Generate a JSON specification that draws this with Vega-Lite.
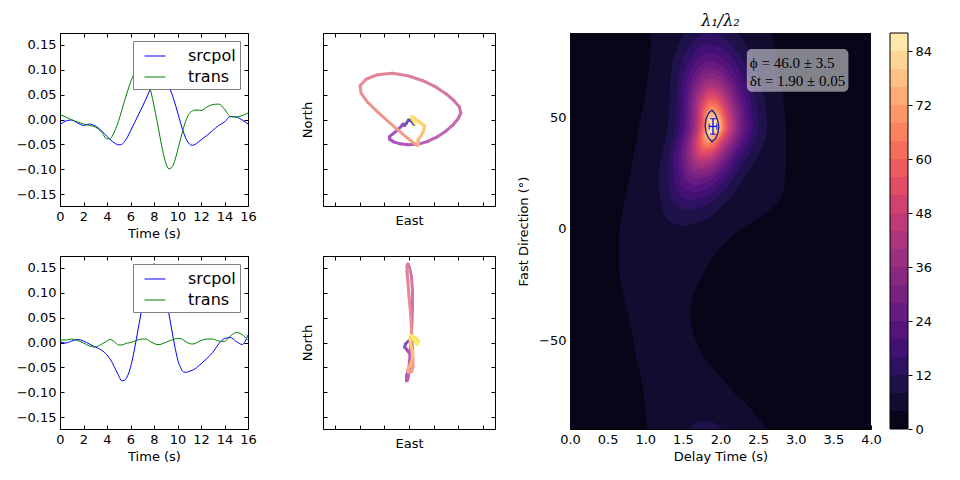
{
  "$schema": "https://vega.github.io/schema/vega-lite/v6.json",
  "autosize": {"type": "pad"},
  "padding": {"left": 15, "top": 12, "right": 5, "bottom": 5},
  "background": "#ffffff",
  "config": {
    "font": "DejaVu Sans",
    "view": {"stroke": "#000000", "strokeWidth": 1},
    "axis": {
      "grid": false,
      "domainColor": "#000000",
      "tickColor": "#000000",
      "labelColor": "#000000",
      "titleColor": "#000000",
      "labelFont": "DejaVu Sans",
      "titleFont": "DejaVu Sans",
      "labelFontSize": 13,
      "titleFontSize": 13,
      "titleFontWeight": "normal",
      "tickSize": -4,
      "labelPadding": 8,
      "labelFlush": false,
      "labelOverlap": false,
      "titlePadding": 4
    }
  },
  "datasets": {
    "pre": [
      {"t": 0, "srcpol": -0.010, "trans": 0.010},
      {"t": 0.5, "srcpol": -0.003, "trans": 0.005},
      {"t": 1, "srcpol": -0.001, "trans": -0.001},
      {"t": 1.5, "srcpol": -0.007, "trans": -0.005},
      {"t": 2, "srcpol": -0.012, "trans": -0.009},
      {"t": 2.5, "srcpol": -0.009, "trans": -0.012},
      {"t": 3, "srcpol": -0.013, "trans": -0.015},
      {"t": 3.5, "srcpol": -0.022, "trans": -0.024},
      {"t": 4, "srcpol": -0.034, "trans": -0.039},
      {"t": 4.25, "srcpol": -0.040, "trans": -0.039},
      {"t": 4.5, "srcpol": -0.045, "trans": -0.031},
      {"t": 4.75, "srcpol": -0.049, "trans": -0.018},
      {"t": 5, "srcpol": -0.051, "trans": -0.002},
      {"t": 5.25, "srcpol": -0.050, "trans": 0.018},
      {"t": 5.5, "srcpol": -0.044, "trans": 0.038},
      {"t": 5.75, "srcpol": -0.035, "trans": 0.057},
      {"t": 6, "srcpol": -0.023, "trans": 0.075},
      {"t": 6.25, "srcpol": -0.011, "trans": 0.089},
      {"t": 6.5, "srcpol": 0.001, "trans": 0.099},
      {"t": 6.75, "srcpol": 0.013, "trans": 0.105},
      {"t": 7, "srcpol": 0.025, "trans": 0.102},
      {"t": 7.25, "srcpol": 0.038, "trans": 0.091},
      {"t": 7.5, "srcpol": 0.051, "trans": 0.076},
      {"t": 7.75, "srcpol": 0.065, "trans": 0.055},
      {"t": 8, "srcpol": 0.078, "trans": 0.028},
      {"t": 8.25, "srcpol": 0.088, "trans": -0.002},
      {"t": 8.5, "srcpol": 0.093, "trans": -0.034},
      {"t": 8.75, "srcpol": 0.090, "trans": -0.064},
      {"t": 9, "srcpol": 0.081, "trans": -0.087},
      {"t": 9.25, "srcpol": 0.068, "trans": -0.099},
      {"t": 9.5, "srcpol": 0.053, "trans": -0.097},
      {"t": 9.75, "srcpol": 0.035, "trans": -0.084},
      {"t": 10, "srcpol": 0.015, "trans": -0.063},
      {"t": 10.25, "srcpol": -0.006, "trans": -0.040},
      {"t": 10.5, "srcpol": -0.025, "trans": -0.018},
      {"t": 10.75, "srcpol": -0.040, "trans": 0.000},
      {"t": 11, "srcpol": -0.049, "trans": 0.012},
      {"t": 11.25, "srcpol": -0.052, "trans": 0.017},
      {"t": 11.5, "srcpol": -0.050, "trans": 0.019},
      {"t": 11.75, "srcpol": -0.046, "trans": 0.019},
      {"t": 12, "srcpol": -0.041, "trans": 0.018},
      {"t": 12.5, "srcpol": -0.032, "trans": 0.025},
      {"t": 13, "srcpol": -0.022, "trans": 0.030},
      {"t": 13.5, "srcpol": -0.012, "trans": 0.031},
      {"t": 14, "srcpol": -0.005, "trans": 0.021},
      {"t": 14.5, "srcpol": 0.006, "trans": 0.006},
      {"t": 15, "srcpol": 0.005, "trans": 0.005},
      {"t": 15.5, "srcpol": -0.001, "trans": 0.008},
      {"t": 16, "srcpol": -0.009, "trans": 0.013}
    ],
    "post": [
      {"t": 0, "srcpol": 0.001, "trans": 0.005},
      {"t": 0.5, "srcpol": -0.001, "trans": 0.005},
      {"t": 1, "srcpol": 0.003, "trans": 0.007},
      {"t": 1.5, "srcpol": 0.006, "trans": 0.004},
      {"t": 2, "srcpol": 0.003, "trans": -0.001},
      {"t": 2.5, "srcpol": -0.003, "trans": -0.007},
      {"t": 3, "srcpol": -0.009, "trans": -0.009},
      {"t": 3.5, "srcpol": -0.015, "trans": -0.004},
      {"t": 4, "srcpol": -0.025, "trans": 0.003},
      {"t": 4.25, "srcpol": -0.033, "trans": 0.006},
      {"t": 4.5, "srcpol": -0.043, "trans": 0.004},
      {"t": 4.75, "srcpol": -0.055, "trans": -0.001},
      {"t": 5, "srcpol": -0.067, "trans": -0.005},
      {"t": 5.25, "srcpol": -0.077, "trans": -0.005},
      {"t": 5.5, "srcpol": -0.076, "trans": -0.003},
      {"t": 5.75, "srcpol": -0.067, "trans": -0.001},
      {"t": 6, "srcpol": -0.050, "trans": 0.000},
      {"t": 6.25, "srcpol": -0.024, "trans": 0.002},
      {"t": 6.5, "srcpol": 0.007, "trans": 0.004},
      {"t": 6.75, "srcpol": 0.040, "trans": 0.006},
      {"t": 7, "srcpol": 0.073, "trans": 0.007},
      {"t": 7.25, "srcpol": 0.105, "trans": 0.007},
      {"t": 7.5, "srcpol": 0.133, "trans": 0.005},
      {"t": 7.75, "srcpol": 0.151, "trans": 0.001},
      {"t": 8, "srcpol": 0.158, "trans": -0.002},
      {"t": 8.25, "srcpol": 0.154, "trans": -0.004},
      {"t": 8.5, "srcpol": 0.142, "trans": -0.004},
      {"t": 8.75, "srcpol": 0.120, "trans": -0.002},
      {"t": 9, "srcpol": 0.093, "trans": 0.000},
      {"t": 9.25, "srcpol": 0.060, "trans": 0.003},
      {"t": 9.5, "srcpol": 0.027, "trans": 0.005},
      {"t": 9.75, "srcpol": -0.005, "trans": 0.007},
      {"t": 10, "srcpol": -0.033, "trans": 0.008},
      {"t": 10.25, "srcpol": -0.050, "trans": 0.008},
      {"t": 10.5, "srcpol": -0.059, "trans": 0.005},
      {"t": 10.75, "srcpol": -0.060, "trans": 0.001},
      {"t": 11, "srcpol": -0.058, "trans": -0.002},
      {"t": 11.25, "srcpol": -0.056, "trans": -0.003},
      {"t": 11.5, "srcpol": -0.053, "trans": -0.002},
      {"t": 11.75, "srcpol": -0.048, "trans": 0.001},
      {"t": 12, "srcpol": -0.043, "trans": 0.004},
      {"t": 12.5, "srcpol": -0.032, "trans": 0.007},
      {"t": 13, "srcpol": -0.020, "trans": 0.007},
      {"t": 13.5, "srcpol": -0.003, "trans": 0.003},
      {"t": 14, "srcpol": 0.008, "trans": 0.002},
      {"t": 14.5, "srcpol": 0.010, "trans": 0.013},
      {"t": 15, "srcpol": 0.002, "trans": 0.020},
      {"t": 15.5, "srcpol": -0.004, "trans": 0.016},
      {"t": 16, "srcpol": 0.015, "trans": 0.004}
    ],
    "bands": [
      {"region": "b0", "level": 0, "deg": -90, "lo": 0, "hi": 4},
      {"region": "b0", "level": 0, "deg": 88, "lo": 0, "hi": 4},
      {"region": "b4", "level": 4, "deg": -90, "lo": 1.03, "hi": 2.62},
      {"region": "b4", "level": 4, "deg": -85, "lo": 1.01, "hi": 2.50},
      {"region": "b4", "level": 4, "deg": -80, "lo": 1.00, "hi": 2.38},
      {"region": "b4", "level": 4, "deg": -75, "lo": 0.98, "hi": 2.22},
      {"region": "b4", "level": 4, "deg": -68, "lo": 0.95, "hi": 2.04},
      {"region": "b4", "level": 4, "deg": -62, "lo": 0.91, "hi": 1.88},
      {"region": "b4", "level": 4, "deg": -54, "lo": 0.86, "hi": 1.72},
      {"region": "b4", "level": 4, "deg": -46, "lo": 0.82, "hi": 1.63},
      {"region": "b4", "level": 4, "deg": -37, "lo": 0.76, "hi": 1.60},
      {"region": "b4", "level": 4, "deg": -28, "lo": 0.70, "hi": 1.66},
      {"region": "b4", "level": 4, "deg": -20, "lo": 0.66, "hi": 1.77},
      {"region": "b4", "level": 4, "deg": -12, "lo": 0.65, "hi": 1.92},
      {"region": "b4", "level": 4, "deg": -6, "lo": 0.65, "hi": 2.07},
      {"region": "b4", "level": 4, "deg": 0, "lo": 0.66, "hi": 2.28},
      {"region": "b4", "level": 4, "deg": 6, "lo": 0.69, "hi": 2.55},
      {"region": "b4", "level": 4, "deg": 12, "lo": 0.72, "hi": 2.76},
      {"region": "b4", "level": 4, "deg": 18, "lo": 0.76, "hi": 2.84},
      {"region": "b4", "level": 4, "deg": 30, "lo": 0.83, "hi": 2.87},
      {"region": "b4", "level": 4, "deg": 45, "lo": 0.91, "hi": 2.87},
      {"region": "b4", "level": 4, "deg": 60, "lo": 1.00, "hi": 2.83},
      {"region": "b4", "level": 4, "deg": 75, "lo": 1.06, "hi": 2.77},
      {"region": "b4", "level": 4, "deg": 88, "lo": 1.08, "hi": 2.68},
      {"region": "b8w", "level": 8, "deg": -90, "lo": 1.59, "hi": 2.02},
      {"region": "b8w", "level": 8, "deg": -88.5, "lo": 1.63, "hi": 1.97},
      {"region": "b8w", "level": 8, "deg": -87, "lo": 1.70, "hi": 1.89},
      {"region": "b8w", "level": 8, "deg": -86.2, "lo": 1.80, "hi": 1.80},
      {"region": "b8", "level": 8, "deg": 1.0, "lo": 1.50, "hi": 1.50},
      {"region": "b8", "level": 8, "deg": 3.25, "lo": 1.332, "hi": 1.745},
      {"region": "b8", "level": 8, "deg": 10, "lo": 1.22, "hi": 2.012},
      {"region": "b8", "level": 8, "deg": 23.5, "lo": 1.18, "hi": 2.324},
      {"region": "b8", "level": 8, "deg": 46, "lo": 1.30, "hi": 2.62},
      {"region": "b8", "level": 8, "deg": 71, "lo": 1.343, "hi": 2.486},
      {"region": "b8", "level": 8, "deg": 86, "lo": 1.48, "hi": 2.272},
      {"region": "b8", "level": 8, "deg": 88, "lo": 1.511, "hi": 2.228},
      {"region": "b12", "level": 12, "deg": 8.2, "lo": 1.564, "hi": 1.564},
      {"region": "b12", "level": 12, "deg": 10.1, "lo": 1.423, "hi": 1.769},
      {"region": "b12", "level": 12, "deg": 15.8, "lo": 1.329, "hi": 1.994},
      {"region": "b12", "level": 12, "deg": 27.1, "lo": 1.296, "hi": 2.256},
      {"region": "b12", "level": 12, "deg": 46, "lo": 1.396, "hi": 2.505},
      {"region": "b12", "level": 12, "deg": 67, "lo": 1.433, "hi": 2.392},
      {"region": "b12", "level": 12, "deg": 79.6, "lo": 1.548, "hi": 2.213},
      {"region": "b12", "level": 12, "deg": 85.9, "lo": 1.683, "hi": 2.029},
      {"region": "b12", "level": 12, "deg": 88, "lo": 1.837, "hi": 1.837},
      {"region": "b16", "level": 16, "deg": 12.7, "lo": 1.604, "hi": 1.604},
      {"region": "b16", "level": 16, "deg": 14.4, "lo": 1.480, "hi": 1.784},
      {"region": "b16", "level": 16, "deg": 19.4, "lo": 1.397, "hi": 1.983},
      {"region": "b16", "level": 16, "deg": 29.4, "lo": 1.367, "hi": 2.214},
      {"region": "b16", "level": 16, "deg": 46, "lo": 1.456, "hi": 2.433},
      {"region": "b16", "level": 16, "deg": 64.5, "lo": 1.488, "hi": 2.334},
      {"region": "b16", "level": 16, "deg": 75.6, "lo": 1.590, "hi": 2.176},
      {"region": "b16", "level": 16, "deg": 81.2, "lo": 1.709, "hi": 2.013},
      {"region": "b16", "level": 16, "deg": 83, "lo": 1.845, "hi": 1.845},
      {"region": "b20", "level": 20, "deg": 16.3, "lo": 1.636, "hi": 1.636},
      {"region": "b20", "level": 20, "deg": 17.8, "lo": 1.525, "hi": 1.797},
      {"region": "b20", "level": 20, "deg": 22.2, "lo": 1.451, "hi": 1.974},
      {"region": "b20", "level": 20, "deg": 31.2, "lo": 1.425, "hi": 2.179},
      {"region": "b20", "level": 20, "deg": 46, "lo": 1.504, "hi": 2.375},
      {"region": "b20", "level": 20, "deg": 62.5, "lo": 1.532, "hi": 2.286},
      {"region": "b20", "level": 20, "deg": 72.4, "lo": 1.622, "hi": 2.145},
      {"region": "b20", "level": 20, "deg": 77.4, "lo": 1.729, "hi": 2.001},
      {"region": "b20", "level": 20, "deg": 79, "lo": 1.851, "hi": 1.851},
      {"region": "b24", "level": 24, "deg": 19.5, "lo": 1.664, "hi": 1.664},
      {"region": "b24", "level": 24, "deg": 20.8, "lo": 1.566, "hi": 1.808},
      {"region": "b24", "level": 24, "deg": 24.8, "lo": 1.499, "hi": 1.966},
      {"region": "b24", "level": 24, "deg": 32.7, "lo": 1.475, "hi": 2.150},
      {"region": "b24", "level": 24, "deg": 46, "lo": 1.546, "hi": 2.325},
      {"region": "b24", "level": 24, "deg": 60.8, "lo": 1.571, "hi": 2.246},
      {"region": "b24", "level": 24, "deg": 69.6, "lo": 1.653, "hi": 2.120},
      {"region": "b24", "level": 24, "deg": 74.0, "lo": 1.748, "hi": 1.991},
      {"region": "b24", "level": 24, "deg": 75.5, "lo": 1.856, "hi": 1.856},
      {"region": "b28", "level": 28, "deg": 22.2, "lo": 1.688, "hi": 1.688},
      {"region": "b28", "level": 28, "deg": 23.3, "lo": 1.599, "hi": 1.817},
      {"region": "b28", "level": 28, "deg": 26.9, "lo": 1.539, "hi": 1.959},
      {"region": "b28", "level": 28, "deg": 34.1, "lo": 1.519, "hi": 2.125},
      {"region": "b28", "level": 28, "deg": 46, "lo": 1.582, "hi": 2.282},
      {"region": "b28", "level": 28, "deg": 59.3, "lo": 1.605, "hi": 2.211},
      {"region": "b28", "level": 28, "deg": 67.2, "lo": 1.677, "hi": 2.097},
      {"region": "b28", "level": 28, "deg": 71.2, "lo": 1.763, "hi": 1.981},
      {"region": "b28", "level": 28, "deg": 72.5, "lo": 1.860, "hi": 1.860},
      {"region": "b32", "level": 32, "deg": 24.4, "lo": 1.708, "hi": 1.708},
      {"region": "b32", "level": 32, "deg": 25.5, "lo": 1.627, "hi": 1.825},
      {"region": "b32", "level": 32, "deg": 28.7, "lo": 1.573, "hi": 1.953},
      {"region": "b32", "level": 32, "deg": 35.2, "lo": 1.555, "hi": 2.103},
      {"region": "b32", "level": 32, "deg": 46, "lo": 1.612, "hi": 2.246},
      {"region": "b32", "level": 32, "deg": 58, "lo": 1.633, "hi": 2.181},
      {"region": "b32", "level": 32, "deg": 65.2, "lo": 1.698, "hi": 2.078},
      {"region": "b32", "level": 32, "deg": 68.8, "lo": 1.776, "hi": 1.974},
      {"region": "b32", "level": 32, "deg": 70, "lo": 1.864, "hi": 1.864},
      {"region": "b36", "level": 36, "deg": 26.7, "lo": 1.728, "hi": 1.728},
      {"region": "b36", "level": 36, "deg": 27.6, "lo": 1.656, "hi": 1.833},
      {"region": "b36", "level": 36, "deg": 30.5, "lo": 1.607, "hi": 1.948},
      {"region": "b36", "level": 36, "deg": 36.3, "lo": 1.591, "hi": 2.082},
      {"region": "b36", "level": 36, "deg": 46, "lo": 1.642, "hi": 2.210},
      {"region": "b36", "level": 36, "deg": 56.8, "lo": 1.661, "hi": 2.152},
      {"region": "b36", "level": 36, "deg": 63.2, "lo": 1.719, "hi": 2.060},
      {"region": "b36", "level": 36, "deg": 66.4, "lo": 1.789, "hi": 1.966},
      {"region": "b36", "level": 36, "deg": 67.5, "lo": 1.868, "hi": 1.868},
      {"region": "b40", "level": 40, "deg": 28.5, "lo": 1.744, "hi": 1.744},
      {"region": "b40", "level": 40, "deg": 29.3, "lo": 1.679, "hi": 1.839},
      {"region": "b40", "level": 40, "deg": 32.0, "lo": 1.635, "hi": 1.944},
      {"region": "b40", "level": 40, "deg": 37.2, "lo": 1.619, "hi": 2.065},
      {"region": "b40", "level": 40, "deg": 46, "lo": 1.666, "hi": 2.181},
      {"region": "b40", "level": 40, "deg": 55.8, "lo": 1.682, "hi": 2.128},
      {"region": "b40", "level": 40, "deg": 61.6, "lo": 1.737, "hi": 2.045},
      {"region": "b40", "level": 40, "deg": 64.5, "lo": 1.799, "hi": 1.960},
      {"region": "b40", "level": 40, "deg": 65.5, "lo": 1.871, "hi": 1.871},
      {"region": "b44", "level": 44, "deg": 30.3, "lo": 1.760, "hi": 1.760},
      {"region": "b44", "level": 44, "deg": 31.0, "lo": 1.701, "hi": 1.845},
      {"region": "b44", "level": 44, "deg": 33.4, "lo": 1.662, "hi": 1.939},
      {"region": "b44", "level": 44, "deg": 38.1, "lo": 1.648, "hi": 2.048},
      {"region": "b44", "level": 44, "deg": 46, "lo": 1.690, "hi": 2.152},
      {"region": "b44", "level": 44, "deg": 54.8, "lo": 1.705, "hi": 2.105},
      {"region": "b44", "level": 44, "deg": 60.0, "lo": 1.753, "hi": 2.030},
      {"region": "b44", "level": 44, "deg": 62.6, "lo": 1.809, "hi": 1.954},
      {"region": "b44", "level": 44, "deg": 63.5, "lo": 1.874, "hi": 1.874},
      {"region": "b48", "level": 48, "deg": 31.8, "lo": 1.774, "hi": 1.774},
      {"region": "b48", "level": 48, "deg": 32.5, "lo": 1.721, "hi": 1.851},
      {"region": "b48", "level": 48, "deg": 34.7, "lo": 1.686, "hi": 1.935},
      {"region": "b48", "level": 48, "deg": 38.9, "lo": 1.673, "hi": 2.033},
      {"region": "b48", "level": 48, "deg": 46, "lo": 1.711, "hi": 2.127},
      {"region": "b48", "level": 48, "deg": 53.9, "lo": 1.724, "hi": 2.084},
      {"region": "b48", "level": 48, "deg": 58.6, "lo": 1.768, "hi": 2.017},
      {"region": "b48", "level": 48, "deg": 61.0, "lo": 1.819, "hi": 1.949},
      {"region": "b48", "level": 48, "deg": 61.8, "lo": 1.876, "hi": 1.876},
      {"region": "b52", "level": 52, "deg": 33.4, "lo": 1.788, "hi": 1.788},
      {"region": "b52", "level": 52, "deg": 34.0, "lo": 1.741, "hi": 1.856},
      {"region": "b52", "level": 52, "deg": 35.9, "lo": 1.709, "hi": 1.931},
      {"region": "b52", "level": 52, "deg": 39.7, "lo": 1.698, "hi": 2.018},
      {"region": "b52", "level": 52, "deg": 46, "lo": 1.732, "hi": 2.102},
      {"region": "b52", "level": 52, "deg": 53.0, "lo": 1.744, "hi": 2.064},
      {"region": "b52", "level": 52, "deg": 57.2, "lo": 1.782, "hi": 2.004},
      {"region": "b52", "level": 52, "deg": 59.3, "lo": 1.828, "hi": 1.943},
      {"region": "b52", "level": 52, "deg": 60.0, "lo": 1.879, "hi": 1.879},
      {"region": "b56", "level": 56, "deg": 34.8, "lo": 1.800, "hi": 1.800},
      {"region": "b56", "level": 56, "deg": 35.3, "lo": 1.758, "hi": 1.861},
      {"region": "b56", "level": 56, "deg": 37.0, "lo": 1.730, "hi": 1.928},
      {"region": "b56", "level": 56, "deg": 40.4, "lo": 1.720, "hi": 2.006},
      {"region": "b56", "level": 56, "deg": 46, "lo": 1.750, "hi": 2.080},
      {"region": "b56", "level": 56, "deg": 52.3, "lo": 1.761, "hi": 2.047},
      {"region": "b56", "level": 56, "deg": 56.0, "lo": 1.795, "hi": 1.993},
      {"region": "b56", "level": 56, "deg": 57.9, "lo": 1.835, "hi": 1.938},
      {"region": "b56", "level": 56, "deg": 58.5, "lo": 1.881, "hi": 1.881},
      {"region": "b60", "level": 60, "deg": 36.1, "lo": 1.812, "hi": 1.812},
      {"region": "b60", "level": 60, "deg": 36.6, "lo": 1.775, "hi": 1.865},
      {"region": "b60", "level": 60, "deg": 38.1, "lo": 1.751, "hi": 1.925},
      {"region": "b60", "level": 60, "deg": 41.1, "lo": 1.742, "hi": 1.993},
      {"region": "b60", "level": 60, "deg": 46, "lo": 1.768, "hi": 2.058},
      {"region": "b60", "level": 60, "deg": 51.5, "lo": 1.778, "hi": 2.029},
      {"region": "b60", "level": 60, "deg": 54.8, "lo": 1.808, "hi": 1.982},
      {"region": "b60", "level": 60, "deg": 56.5, "lo": 1.843, "hi": 1.933},
      {"region": "b60", "level": 60, "deg": 57.0, "lo": 1.884, "hi": 1.884},
      {"region": "b64", "level": 64, "deg": 37.2, "lo": 1.822, "hi": 1.822},
      {"region": "b64", "level": 64, "deg": 39.9, "lo": 1.762, "hi": 1.945},
      {"region": "b64", "level": 64, "deg": 46, "lo": 1.783, "hi": 2.040},
      {"region": "b64", "level": 64, "deg": 52.8, "lo": 1.806, "hi": 1.990},
      {"region": "b64", "level": 64, "deg": 55.8, "lo": 1.885, "hi": 1.885},
      {"region": "b68", "level": 68, "deg": 38.4, "lo": 1.832, "hi": 1.832},
      {"region": "b68", "level": 68, "deg": 40.6, "lo": 1.779, "hi": 1.939},
      {"region": "b68", "level": 68, "deg": 46, "lo": 1.798, "hi": 2.022},
      {"region": "b68", "level": 68, "deg": 52.0, "lo": 1.818, "hi": 1.978},
      {"region": "b68", "level": 68, "deg": 54.5, "lo": 1.887, "hi": 1.887},
      {"region": "b72", "level": 72, "deg": 39.5, "lo": 1.842, "hi": 1.842},
      {"region": "b72", "level": 72, "deg": 41.4, "lo": 1.797, "hi": 1.934},
      {"region": "b72", "level": 72, "deg": 46, "lo": 1.813, "hi": 2.004},
      {"region": "b72", "level": 72, "deg": 51.1, "lo": 1.830, "hi": 1.967},
      {"region": "b72", "level": 72, "deg": 53.3, "lo": 1.889, "hi": 1.889},
      {"region": "b76", "level": 76, "deg": 40.6, "lo": 1.852, "hi": 1.852},
      {"region": "b76", "level": 76, "deg": 42.2, "lo": 1.815, "hi": 1.928},
      {"region": "b76", "level": 76, "deg": 46, "lo": 1.828, "hi": 1.986},
      {"region": "b76", "level": 76, "deg": 50.2, "lo": 1.843, "hi": 1.956},
      {"region": "b76", "level": 76, "deg": 52.0, "lo": 1.891, "hi": 1.891},
      {"region": "b80", "level": 80, "deg": 42.0, "lo": 1.864, "hi": 1.864},
      {"region": "b80", "level": 80, "deg": 43.2, "lo": 1.836, "hi": 1.921},
      {"region": "b80", "level": 80, "deg": 46, "lo": 1.846, "hi": 1.965},
      {"region": "b80", "level": 80, "deg": 49.2, "lo": 1.857, "hi": 1.941},
      {"region": "b80", "level": 80, "deg": 50.5, "lo": 1.893, "hi": 1.893},
      {"region": "b84", "level": 84, "deg": 43.3, "lo": 1.876, "hi": 1.876},
      {"region": "b84", "level": 84, "deg": 44.1, "lo": 1.857, "hi": 1.914},
      {"region": "b84", "level": 84, "deg": 46, "lo": 1.864, "hi": 1.943},
      {"region": "b84", "level": 84, "deg": 48.1, "lo": 1.871, "hi": 1.928},
      {"region": "b84", "level": 84, "deg": 49.0, "lo": 1.896, "hi": 1.896}
    ],
    "lens": [
      {"i": 0, "t": 1.887, "deg": 53.4},
      {"i": 1, "t": 1.930, "deg": 51.6},
      {"i": 2, "t": 1.962, "deg": 48.8},
      {"i": 3, "t": 1.977, "deg": 46.0},
      {"i": 4, "t": 1.966, "deg": 43.0},
      {"i": 5, "t": 1.933, "deg": 40.5},
      {"i": 6, "t": 1.887, "deg": 39.1},
      {"i": 7, "t": 1.842, "deg": 40.7},
      {"i": 8, "t": 1.808, "deg": 43.4},
      {"i": 9, "t": 1.795, "deg": 46.3},
      {"i": 10, "t": 1.807, "deg": 49.3},
      {"i": 11, "t": 1.842, "deg": 52.0},
      {"i": 12, "t": 1.887, "deg": 53.4}
    ],
    "result": [
      {"dt": 1.90, "dt_lo": 1.85, "dt_hi": 1.95, "phi": 46.0, "phi_lo": 42.5, "phi_hi": 49.5}
    ],
    "notes": [
      {"label": "ϕ = 46.0 ± 3.5", "t": 2.39, "deg": 74.4},
      {"label": "δt = 1.90 ± 0.05", "t": 2.39, "deg": 66.6}
    ],
    "cbar": [
      {"level": 0, "top": 4}, {"level": 4, "top": 8}, {"level": 8, "top": 12},
      {"level": 12, "top": 16}, {"level": 16, "top": 20}, {"level": 20, "top": 24},
      {"level": 24, "top": 28}, {"level": 28, "top": 32}, {"level": 32, "top": 36},
      {"level": 36, "top": 40}, {"level": 40, "top": 44}, {"level": 44, "top": 48},
      {"level": 48, "top": 52}, {"level": 52, "top": 56}, {"level": 56, "top": 60},
      {"level": 60, "top": 64}, {"level": 64, "top": 68}, {"level": 68, "top": 72},
      {"level": 72, "top": 76}, {"level": 76, "top": 80}, {"level": 80, "top": 84},
      {"level": 84, "top": 88}
    ]
  },
  "columns": 3,
  "spacing": {"row": 50, "column": 75},
  "bounds": "flush",
  "align": "each",
  "resolve": {"scale": {"color": "independent"}, "legend": {"color": "independent"}},
  "concat": [
    {
      "width": 188,
      "height": 173,
      "resolve": {"scale": {"x": "independent", "y": "independent"}},
      "layer": [
        {
          "data": {"name": "pre"},
          "transform": [{"fold": ["srcpol", "trans"], "as": ["series", "amp"]}],
          "mark": {"type": "line", "strokeWidth": 1, "interpolate": "monotone"},
          "encoding": {
            "x": {"field": "t", "type": "quantitative", "scale": {"domain": [0, 16]},
                  "axis": {"title": "Time (s)", "values": [0, 2, 4, 6, 8, 10, 12, 14, 16], "format": "d", "labelOverlap": false}},
            "y": {"field": "amp", "type": "quantitative", "scale": {"domain": [-0.174, 0.174]},
                  "axis": {"title": null, "values": [-0.15, -0.1, -0.05, 0, 0.05, 0.1, 0.15], "format": ".2f", "labelOverlap": false}},
            "color": {"field": "series", "type": "nominal",
                      "scale": {"domain": ["srcpol", "trans"], "range": ["#0000ff", "#008000"]},
                      "legend": {"title": null, "orient": "top-right", "offset": 8, "padding": 4,
                                 "strokeColor": "#808080", "fillColor": "#ffffff",
                                 "symbolType": "stroke", "symbolSize": 441, "symbolStrokeWidth": 1,
                                 "symbolOffset": 7, "labelOffset": 22, "rowPadding": 2,
                                 "labelFont": "DejaVu Sans", "labelFontSize": 16, "labelColor": "#000000"}}
          }
        },
        {
          "data": {"name": "pre"},
          "mark": {"type": "point", "opacity": 0},
          "encoding": {
            "x": {"field": "t", "type": "quantitative", "scale": {"domain": [0, 16]},
                  "axis": {"orient": "top", "title": null, "labels": false, "values": [0, 2, 4, 6, 8, 10, 12, 14, 16]}},
            "y": {"field": "trans", "type": "quantitative", "scale": {"domain": [-0.174, 0.174]},
                  "axis": {"orient": "right", "title": null, "labels": false, "values": [-0.15, -0.1, -0.05, 0, 0.05, 0.1, 0.15]}}
          }
        }
      ]
    },
    {
      "width": 172,
      "height": 173,
      "resolve": {"scale": {"x": "independent", "y": "independent"}},
      "layer": [
        {
          "data": {"name": "pre"},
          "transform": [
            {"window": [{"op": "lead", "field": "trans", "as": "trans_next"},
                        {"op": "lead", "field": "srcpol", "as": "srcpol_next"}],
             "sort": [{"field": "t", "order": "ascending"}]},
            {"filter": "isValid(datum.trans_next)"}
          ],
          "mark": {"type": "rule", "strokeWidth": 3, "strokeCap": "round"},
          "encoding": {
            "x": {"field": "trans", "type": "quantitative", "scale": {"domain": [-0.174, 0.174]},
                  "axis": {"title": "East", "labels": false, "values": [-0.15, -0.1, -0.05, 0, 0.05, 0.1, 0.15], "titlePadding": 8}},
            "y": {"field": "srcpol", "type": "quantitative", "scale": {"domain": [-0.174, 0.174]},
                  "axis": {"title": "North", "labels": false, "values": [-0.15, -0.1, -0.05, 0, 0.05, 0.1, 0.15], "titlePadding": 8}},
            "x2": {"field": "trans_next"},
            "y2": {"field": "srcpol_next"},
            "color": {"field": "t", "type": "quantitative",
                      "scale": {"domain": [0, 2, 4, 6, 8, 10, 12, 14, 16],
                                "range": ["#5652ab", "#8250bd", "#a54fc2", "#c365b5", "#db7ea0", "#ed978e", "#fab579", "#fed568", "#f5fb64"]},
                      "legend": null}
          }
        },
        {
          "data": {"name": "pre"},
          "mark": {"type": "point", "opacity": 0},
          "encoding": {
            "x": {"field": "trans", "type": "quantitative", "scale": {"domain": [-0.174, 0.174]},
                  "axis": {"orient": "top", "title": null, "labels": false, "values": [-0.15, -0.1, -0.05, 0, 0.05, 0.1, 0.15]}},
            "y": {"field": "srcpol", "type": "quantitative", "scale": {"domain": [-0.174, 0.174]},
                  "axis": {"orient": "right", "title": null, "labels": false, "values": [-0.15, -0.1, -0.05, 0, 0.05, 0.1, 0.15]}}
          }
        }
      ]
    },
    {
      "width": 301,
      "height": 173,
      "view": {"stroke": null},
      "title": {"text": "λ₁/λ₂", "font": "DejaVu Serif", "fontStyle": "italic", "fontSize": 16,
                "fontWeight": "normal", "frame": "group", "offset": 4, "color": "#000000"},
      "resolve": {"scale": {"x": "independent", "y": "independent"}},
      "layer": [
        {
          "layer": [
            {
              "data": {"name": "bands"},
              "mark": {"type": "area", "orient": "horizontal", "interpolate": "monotone"},
              "encoding": {
                "y": {"field": "deg", "type": "quantitative",
                      "scale": {"domain": [-90, 88], "range": [396, 0]},
                      "axis": {"title": "Fast Direction (°)", "values": [-50, 0, 50], "format": "d", "titlePadding": 8, "labelOverlap": false}},
                "x": {"field": "lo", "type": "quantitative", "scale": {"domain": [0, 4]},
                      "axis": {"title": "Delay Time (s)", "values": [0, 0.5, 1, 1.5, 2, 2.5, 3, 3.5, 4], "format": ".1f", "offset": 223, "labelOverlap": false}},
                "x2": {"field": "hi"},
                "detail": {"field": "region"},
                "color": {"field": "level", "type": "quantitative",
                          "scale": {"type": "quantize", "domain": [0, 88], "scheme": {"name": "magma", "count": 22}},
                          "legend": null}
              }
            },
            {
              "data": {"name": "lens"},
              "mark": {"type": "line", "color": "#1c1c8c", "strokeWidth": 1.3},
              "encoding": {
                "x": {"field": "t", "type": "quantitative", "scale": {"domain": [0, 4]},
                      "axis": {"title": "Delay Time (s)", "values": [0, 0.5, 1, 1.5, 2, 2.5, 3, 3.5, 4], "format": ".1f", "offset": 223, "labelOverlap": false}},
                "y": {"field": "deg", "type": "quantitative", "scale": {"domain": [-90, 88], "range": [396, 0]},
                      "axis": {"title": "Fast Direction (°)", "values": [-50, 0, 50], "format": "d", "titlePadding": 8, "labelOverlap": false}},
                "order": {"field": "i"}
              }
            },
            {
              "data": {"name": "result"},
              "mark": {"type": "errorbar", "ticks": true, "size": 6, "thickness": 1.3, "color": "#0000ff"},
              "encoding": {
                "x": {"field": "dt", "type": "quantitative", "scale": {"domain": [0, 4]},
                      "axis": {"title": "Delay Time (s)", "values": [0, 0.5, 1, 1.5, 2, 2.5, 3, 3.5, 4], "format": ".1f", "offset": 223, "labelOverlap": false}},
                "y": {"field": "phi_lo", "type": "quantitative", "scale": {"domain": [-90, 88], "range": [396, 0]},
                      "axis": {"title": "Fast Direction (°)", "values": [-50, 0, 50], "format": "d", "titlePadding": 8, "labelOverlap": false}},
                "y2": {"field": "phi_hi"}
              }
            },
            {
              "data": {"name": "result"},
              "mark": {"type": "errorbar", "ticks": true, "size": 6, "thickness": 1.3, "color": "#0000ff"},
              "encoding": {
                "y": {"field": "phi", "type": "quantitative", "scale": {"domain": [-90, 88], "range": [396, 0]},
                      "axis": {"title": "Fast Direction (°)", "values": [-50, 0, 50], "format": "d", "titlePadding": 8, "labelOverlap": false}},
                "x": {"field": "dt_lo", "type": "quantitative", "scale": {"domain": [0, 4]},
                      "axis": {"title": "Delay Time (s)", "values": [0, 0.5, 1, 1.5, 2, 2.5, 3, 3.5, 4], "format": ".1f", "offset": 223, "labelOverlap": false}},
                "x2": {"field": "dt_hi"}
              }
            },
            {
              "data": {"values": [{}]},
              "mark": {"type": "rect", "fill": "#ffffff", "fillOpacity": 0.5, "cornerRadius": 5},
              "encoding": {
                "x": {"datum": 2.35, "type": "quantitative", "scale": {"domain": [0, 4]},
                      "axis": {"title": "Delay Time (s)", "values": [0, 0.5, 1, 1.5, 2, 2.5, 3, 3.5, 4], "format": ".1f", "offset": 223, "labelOverlap": false}},
                "x2": {"datum": 3.70},
                "y": {"datum": 61.6, "type": "quantitative", "scale": {"domain": [-90, 88], "range": [396, 0]},
                      "axis": {"title": "Fast Direction (°)", "values": [-50, 0, 50], "format": "d", "titlePadding": 8, "labelOverlap": false}},
                "y2": {"datum": 80.8}
              }
            },
            {
              "data": {"name": "notes"},
              "mark": {"type": "text", "align": "left", "baseline": "middle", "font": "Liberation Serif", "fontSize": 15, "color": "#000000"},
              "encoding": {
                "x": {"field": "t", "type": "quantitative", "scale": {"domain": [0, 4]},
                      "axis": {"title": "Delay Time (s)", "values": [0, 0.5, 1, 1.5, 2, 2.5, 3, 3.5, 4], "format": ".1f", "offset": 223, "labelOverlap": false}},
                "y": {"field": "deg", "type": "quantitative", "scale": {"domain": [-90, 88], "range": [396, 0]},
                      "axis": {"title": "Fast Direction (°)", "values": [-50, 0, 50], "format": "d", "titlePadding": 8, "labelOverlap": false}},
                "text": {"field": "label"}
              }
            }
          ]
        },
        {
          "layer": [
            {
              "data": {"name": "cbar"},
              "mark": {"type": "rect"},
              "encoding": {
                "x": {"datum": 0, "type": "quantitative", "scale": {"domain": [0, 1], "range": [320, 338]}, "axis": null},
                "x2": {"datum": 1},
                "y": {"field": "level", "type": "quantitative",
                      "scale": {"domain": [0, 88], "range": [396, 0]},
                      "axis": {"orient": "right", "offset": 37, "title": null, "values": [0, 12, 24, 36, 48, 60, 72, 84],
                               "format": "d", "tickSize": 4, "labelPadding": 3, "domain": false, "labelOverlap": false}},
                "y2": {"field": "top"},
                "color": {"field": "level", "type": "quantitative",
                          "scale": {"type": "quantize", "domain": [0, 88], "scheme": {"name": "magma", "count": 22}},
                          "legend": null}
              }
            },
            {
              "data": {"values": [{}]},
              "mark": {"type": "rect", "filled": false, "color": "#000000", "strokeWidth": 1},
              "encoding": {
                "x": {"datum": 0, "type": "quantitative", "scale": {"domain": [0, 1], "range": [320, 338]}, "axis": null},
                "x2": {"datum": 1},
                "y": {"datum": 0, "type": "quantitative", "scale": {"domain": [0, 88], "range": [396, 0]},
                      "axis": {"orient": "right", "offset": 37, "title": null, "values": [0, 12, 24, 36, 48, 60, 72, 84],
                               "format": "d", "tickSize": 4, "labelPadding": 3, "domain": false, "labelOverlap": false}},
                "y2": {"datum": 88}
              }
            }
          ]
        }
      ]
    },
    {
      "width": 188,
      "height": 173,
      "resolve": {"scale": {"x": "independent", "y": "independent"}},
      "layer": [
        {
          "data": {"name": "post"},
          "transform": [{"fold": ["srcpol", "trans"], "as": ["series", "amp"]}],
          "mark": {"type": "line", "strokeWidth": 1, "interpolate": "monotone"},
          "encoding": {
            "x": {"field": "t", "type": "quantitative", "scale": {"domain": [0, 16]},
                  "axis": {"title": "Time (s)", "values": [0, 2, 4, 6, 8, 10, 12, 14, 16], "format": "d", "labelOverlap": false}},
            "y": {"field": "amp", "type": "quantitative", "scale": {"domain": [-0.174, 0.174]},
                  "axis": {"title": null, "values": [-0.15, -0.1, -0.05, 0, 0.05, 0.1, 0.15], "format": ".2f", "labelOverlap": false}},
            "color": {"field": "series", "type": "nominal",
                      "scale": {"domain": ["srcpol", "trans"], "range": ["#0000ff", "#008000"]},
                      "legend": {"title": null, "orient": "top-right", "offset": 8, "padding": 4,
                                 "strokeColor": "#808080", "fillColor": "#ffffff",
                                 "symbolType": "stroke", "symbolSize": 441, "symbolStrokeWidth": 1,
                                 "symbolOffset": 7, "labelOffset": 22, "rowPadding": 2,
                                 "labelFont": "DejaVu Sans", "labelFontSize": 16, "labelColor": "#000000"}}
          }
        },
        {
          "data": {"name": "post"},
          "mark": {"type": "point", "opacity": 0},
          "encoding": {
            "x": {"field": "t", "type": "quantitative", "scale": {"domain": [0, 16]},
                  "axis": {"orient": "top", "title": null, "labels": false, "values": [0, 2, 4, 6, 8, 10, 12, 14, 16]}},
            "y": {"field": "trans", "type": "quantitative", "scale": {"domain": [-0.174, 0.174]},
                  "axis": {"orient": "right", "title": null, "labels": false, "values": [-0.15, -0.1, -0.05, 0, 0.05, 0.1, 0.15]}}
          }
        }
      ]
    },
    {
      "width": 172,
      "height": 173,
      "resolve": {"scale": {"x": "independent", "y": "independent"}},
      "layer": [
        {
          "data": {"name": "post"},
          "transform": [
            {"window": [{"op": "lead", "field": "trans", "as": "trans_next"},
                        {"op": "lead", "field": "srcpol", "as": "srcpol_next"}],
             "sort": [{"field": "t", "order": "ascending"}]},
            {"filter": "isValid(datum.trans_next)"}
          ],
          "mark": {"type": "rule", "strokeWidth": 3, "strokeCap": "round"},
          "encoding": {
            "x": {"field": "trans", "type": "quantitative", "scale": {"domain": [-0.174, 0.174]},
                  "axis": {"title": "East", "labels": false, "values": [-0.15, -0.1, -0.05, 0, 0.05, 0.1, 0.15], "titlePadding": 8}},
            "y": {"field": "srcpol", "type": "quantitative", "scale": {"domain": [-0.174, 0.174]},
                  "axis": {"title": "North", "labels": false, "values": [-0.15, -0.1, -0.05, 0, 0.05, 0.1, 0.15], "titlePadding": 8}},
            "x2": {"field": "trans_next"},
            "y2": {"field": "srcpol_next"},
            "color": {"field": "t", "type": "quantitative",
                      "scale": {"domain": [0, 2, 4, 6, 8, 10, 12, 14, 16],
                                "range": ["#5652ab", "#8250bd", "#a54fc2", "#c365b5", "#db7ea0", "#ed978e", "#fab579", "#fed568", "#f5fb64"]},
                      "legend": null}
          }
        },
        {
          "data": {"name": "post"},
          "mark": {"type": "point", "opacity": 0},
          "encoding": {
            "x": {"field": "trans", "type": "quantitative", "scale": {"domain": [-0.174, 0.174]},
                  "axis": {"orient": "top", "title": null, "labels": false, "values": [-0.15, -0.1, -0.05, 0, 0.05, 0.1, 0.15]}},
            "y": {"field": "srcpol", "type": "quantitative", "scale": {"domain": [-0.174, 0.174]},
                  "axis": {"orient": "right", "title": null, "labels": false, "values": [-0.15, -0.1, -0.05, 0, 0.05, 0.1, 0.15]}}
          }
        }
      ]
    }
  ]
}
